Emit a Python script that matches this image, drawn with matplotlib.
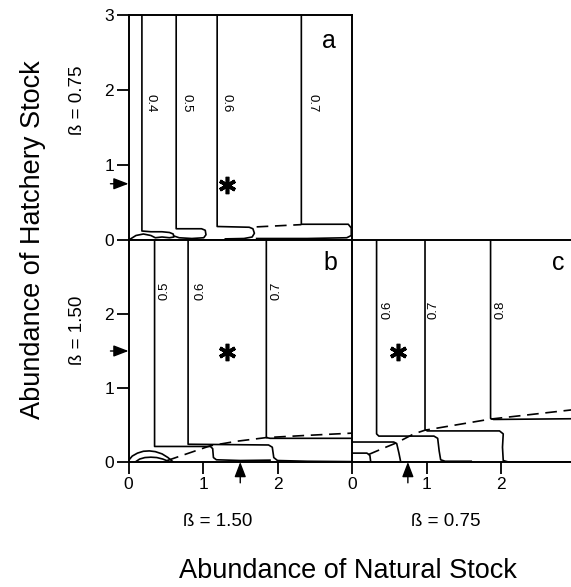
import matplotlib
matplotlib.use('Agg')
import matplotlib.pyplot as plt

plt.rcParams['font.family'] = ['Liberation Sans', 'DejaVu Sans']

# contour lines: (natural stock x, hatchery stock y)
# panel a, beta = 0.75
a_04_x = [0.18, 0.18, 0.30, 0.45, 0.55, 0.60, 0.61, 0.55, 0.45, 0.36, 0.30, 0.20, 0.10, 0.02]
a_04_y = [3.0, 0.12, 0.11, 0.11, 0.10, 0.08, 0.04, 0.03, 0.04, 0.03, 0.06, 0.08, 0.06, 0.01]
a_05_x = [0.64, 0.64, 0.98, 1.03, 1.04, 1.01, 0.85, 0.68, 0.62]
a_05_y = [3.0, 0.15, 0.15, 0.13, 0.07, 0.03, 0.02, 0.03, 0.05]
a_06_x = [1.19, 1.19, 1.62, 1.67, 1.69, 1.66, 1.55, 1.30]
a_06_y = [3.0, 0.18, 0.17, 0.15, 0.09, 0.04, 0.02, 0.015]
a_07_x = [2.32, 2.32, 2.95, 2.99, 2.99, 2.93, 2.40, 1.72]
a_07_y = [3.0, 0.21, 0.21, 0.16, 0.06, 0.03, 0.02, 0.02]
a_ridge_x = [1.72, 2.32]
a_ridge_y = [0.175, 0.205]

# panel b, beta = 1.50
b_05_x = [0.35, 0.35, 1.10, 1.13, 1.14, 1.18, 1.50, 1.90]
b_05_y = [3.0, 0.21, 0.21, 0.18, 0.06, 0.03, 0.02, 0.025]
b_06_x = [0.80, 0.80, 1.88, 1.93, 1.95, 2.00, 2.40, 3.0]
b_06_y = [3.0, 0.24, 0.23, 0.20, 0.06, 0.02, 0.01, 0.005]
b_07_x = [1.85, 1.85, 1.90, 3.0]
b_07_y = [3.0, 0.33, 0.32, 0.32]
b_arc1_x = [0.0, 0.05, 0.12, 0.20, 0.28, 0.36, 0.45, 0.53, 0.60]
b_arc1_y = [0.02, 0.08, 0.12, 0.145, 0.15, 0.14, 0.11, 0.06, 0.0]
b_arc2_x = [0.09, 0.15, 0.22, 0.30, 0.38, 0.46, 0.56]
b_arc2_y = [0.0, 0.04, 0.06, 0.065, 0.06, 0.04, 0.0]
b_ridge_x = [0.52, 1.10, 1.45, 1.85, 2.40, 3.0]
b_ridge_y = [0.02, 0.22, 0.28, 0.33, 0.36, 0.39]

# panel c, beta = 0.75
c_05_x = [0.0, 0.56, 0.60, 0.63, 0.65]
c_05_y = [0.27, 0.27, 0.25, 0.12, 0.02]
c_04_x = [0.0, 0.20, 0.24, 0.25]
c_04_y = [0.12, 0.12, 0.09, 0.01]
c_06_x = [0.33, 0.33, 0.36, 1.10, 1.15, 1.17, 1.19, 1.25, 1.60]
c_06_y = [3.0, 0.38, 0.35, 0.35, 0.32, 0.15, 0.03, 0.01, 0.01]
c_07_x = [0.98, 0.98, 1.01, 1.98, 2.03, 2.02, 2.03, 2.10, 3.0]
c_07_y = [3.0, 0.44, 0.42, 0.42, 0.38, 0.20, 0.02, 0.0, 0.0]
c_08_x = [1.86, 1.86, 1.90, 3.0]
c_08_y = [3.0, 0.59, 0.575, 0.585]
c_ridge_x = [0.22, 0.43, 0.60, 0.83, 0.98, 1.86, 3.0]
c_ridge_y = [0.10, 0.19, 0.26, 0.38, 0.43, 0.58, 0.71]

# contour labels
a_levels = ['0.4', '0.5', '0.6', '0.7']
a_label_x = [0.30, 0.78, 1.31, 2.47]
b_levels = ['0.5', '0.6', '0.7']
b_label_x = [0.48, 0.96, 1.99]
c_levels = ['0.6', '0.7', '0.8']
c_label_x = [0.47, 1.10, 2.00]

# optimum (*) and beta arrows
star_a = (1.32, 0.74)
star_b = (1.32, 1.49)
star_c = (0.62, 1.49)
beta_a = 0.75
beta_b = 1.50
beta_c = 0.75

W, H = 571, 587
fig = plt.figure(figsize=(W / 100, H / 100), dpi=100)

def px_axes(left, top, right, bottom):
    return fig.add_axes([left / W, 1 - bottom / H, (right - left) / W, (bottom - top) / H])

ax_a = px_axes(128.5, 15, 352, 240)
ax_b = px_axes(128.5, 240, 352, 462)
ax_c = px_axes(352, 240, 575.5, 462)

lw = 1.2
dash = (0, (7, 4))
for ax in (ax_a, ax_b, ax_c):
    ax.set_xlim(0, 3)
    ax.set_ylim(0, 3)
    for s in ax.spines.values():
        s.set_linewidth(1.4)
    ax.tick_params(direction='out', length=8.5, width=1.3, labelsize=12.5, pad=2)

# panel a
for xs, ys in [(a_04_x, a_04_y), (a_05_x, a_05_y), (a_06_x, a_06_y), (a_07_x, a_07_y)]:
    ax_a.plot(xs, ys, color='k', lw=lw)
ax_a.plot(a_ridge_x, a_ridge_y, color='k', lw=lw, ls=dash)
for lev, x in zip(a_levels, a_label_x):
    ax_a.text(x, 1.82, lev, rotation=-90, ha='center', va='center', fontsize=9.5)
ax_a.set_xticks([])
ax_a.set_yticks([0, 1, 2, 3])
ax_a.text(2.69, 2.66, 'a', fontsize=18, ha='center', va='center')

# panel b
for xs, ys in [(b_05_x, b_05_y), (b_06_x, b_06_y), (b_07_x, b_07_y),
               (b_arc1_x, b_arc1_y), (b_arc2_x, b_arc2_y)]:
    ax_b.plot(xs, ys, color='k', lw=lw)
ax_b.plot(b_ridge_x, b_ridge_y, color='k', lw=lw, ls=dash)
for lev, x in zip(b_levels, b_label_x):
    ax_b.text(x, 2.32, lev, rotation=90, ha='center', va='center', fontsize=9.5)
ax_b.set_xticks([0, 1, 2])
ax_b.set_yticks([0, 1, 2])
ax_b.spines['right'].set_visible(False)
ax_b.text(2.71, 2.69, 'b', fontsize=18, ha='center', va='center')

# panel c
for xs, ys in [(c_05_x, c_05_y), (c_04_x, c_04_y), (c_06_x, c_06_y),
               (c_07_x, c_07_y), (c_08_x, c_08_y)]:
    ax_c.plot(xs, ys, color='k', lw=lw)
ax_c.plot(c_ridge_x, c_ridge_y, color='k', lw=lw, ls=dash)
for lev, x in zip(c_levels, c_label_x):
    ax_c.text(x, 2.05, lev, rotation=90, ha='center', va='center', fontsize=9.5)
ax_c.set_xticks([0, 1, 2, 3])
ax_c.set_yticks([])
ax_c.text(2.77, 2.69, 'c', fontsize=18, ha='center', va='center')

# optimum markers
for ax, (sx, sy) in [(ax_a, star_a), (ax_b, star_b), (ax_c, star_c)]:
    ax.plot(sx, sy, marker=(6, 2, 0), ms=12.5, mew=2.6, color='k')

# beta arrows pointing at the axes
arrow = dict(arrowstyle='-|>,head_length=0.65,head_width=0.25', color='k', lw=1.0,
             shrinkA=0, shrinkB=0, mutation_scale=14)
ax_a.annotate('', xy=(0, beta_a), xycoords=('axes fraction', 'data'), xytext=(-13, 0),
              textcoords='offset points', arrowprops=arrow, annotation_clip=False)
ax_b.annotate('', xy=(0, beta_b), xycoords=('axes fraction', 'data'), xytext=(-13, 0),
              textcoords='offset points', arrowprops=arrow, annotation_clip=False)
ax_b.annotate('', xy=(beta_b, 0), xycoords=('data', 'axes fraction'), xytext=(0, -15),
              textcoords='offset points', arrowprops=arrow, annotation_clip=False)
ax_c.annotate('', xy=(beta_c, 0), xycoords=('data', 'axes fraction'), xytext=(0, -15),
              textcoords='offset points', arrowprops=arrow, annotation_clip=False)

# beta labels and axis titles
fig.text(78 / W, 1 - 100 / H, 'ß = 0.75', rotation=90, ha='center', va='center', fontsize=13.5)
fig.text(78 / W, 1 - 330 / H, 'ß = 1.50', rotation=90, ha='center', va='center', fontsize=13.5)
fig.text(218 / W, 1 - 522 / H, 'ß = 1.50', ha='center', va='center', fontsize=13.5)
fig.text(446 / W, 1 - 522 / H, 'ß = 0.75', ha='center', va='center', fontsize=13.5)
fig.text(33 / W, 1 - 240 / H, 'Abundance of Hatchery Stock', rotation=90,
         ha='center', va='center', fontsize=19.5)
fig.text(348 / W, 1 - 571 / H, 'Abundance of Natural Stock', ha='center', va='center', fontsize=19.5)

fig.savefig('out.png', dpi=100)
